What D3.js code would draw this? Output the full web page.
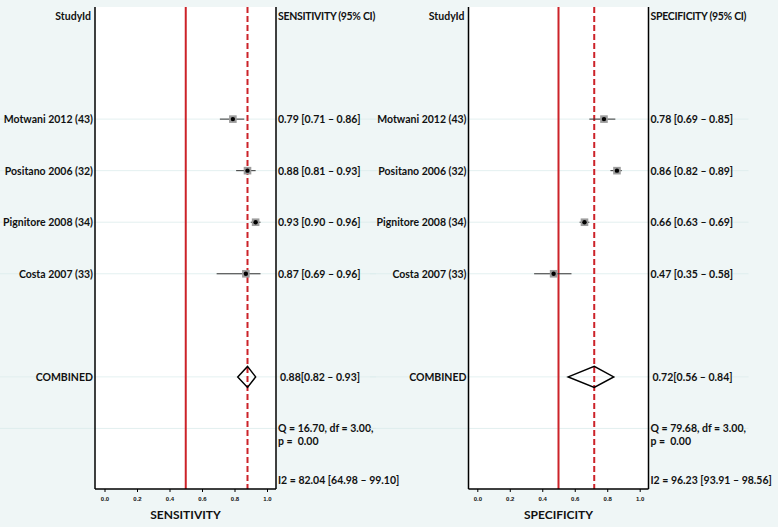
<!DOCTYPE html>
<html>
<head>
<meta charset="utf-8">
<script src="https://cdn.jsdelivr.net/npm/d3@7"></script>
<style>
  html, body { margin: 0; padding: 0; background: #eff6f6; }
  svg { display: block; font-family: Lato, "Open Sans", sans-serif; }
  .label { font-size: 10.5px; font-weight: bold; fill: #111; white-space: pre; }
  .tick text { font-size: 6px; font-weight: bold; fill: #111; }
</style>
</head>
<body>
<svg id="chart" width="778" height="527"></svg>
<script>
var studies = ['Motwani 2012 (43)', 'Positano 2006 (32)', 'Pignitore 2008 (34)', 'Costa 2007 (33)'];

var sensEst = [0.79, 0.88, 0.93, 0.87];
var sensLo  = [0.71, 0.81, 0.90, 0.69];
var sensHi  = [0.86, 0.93, 0.96, 0.96];
var sensPooled = [0.88, 0.82, 0.93];
var sensQ = ['Q = 16.70, df = 3.00,', 'p =  0.00'];
var sensI2 = 'I2 = 82.04 [64.98 \u2013 99.10]';

var specEst = [0.78, 0.86, 0.66, 0.47];
var specLo  = [0.69, 0.82, 0.63, 0.35];
var specHi  = [0.85, 0.89, 0.69, 0.58];
var specPooled = [0.72, 0.56, 0.84];
var specQ = ['Q = 79.68, df = 3.00,', 'p =  0.00'];
var specI2 = 'I2 = 96.23 [93.91 \u2013 98.56]';

var xTicks = [0, 0.2, 0.4, 0.6, 0.8, 1.0];

var svg = d3.select('#chart');

// rows: 0 header, 2-5 studies, 7 combined, 8 Q, 9 I2
var rowY = d3.scaleLinear().domain([0, 9]).range([16, 480]);
var panelTop = 7, panelBottom = 489;

function fmt(v) { return v.toFixed(2); }

function drawPanel(g, opts) {
    var x = d3.scaleLinear().domain([0, 1]).range([opts.x0, opts.x1]);

    g.append('rect')
        .attr('x', opts.left)
        .attr('y', panelTop)
        .attr('width', opts.right - opts.left)
        .attr('height', panelBottom - panelTop)
        .attr('fill', '#ffffff');

    // faint row guides
    g.selectAll('line.row-guide')
        .data([2, 3, 4, 5, 7, 8])
        .enter()
        .append('line')
        .attr('class', 'row-guide')
        .attr('x1', opts.labelStart)
        .attr('x2', opts.right + 100)
        .attr('y1', d => rowY(d))
        .attr('y2', d => rowY(d))
        .attr('stroke', '#dcecec')
        .attr('stroke-width', 0.8);

    // reference lines
    g.append('line')
        .attr('x1', x(0.5)).attr('x2', x(0.5))
        .attr('y1', panelTop).attr('y2', panelBottom)
        .attr('stroke', '#cc2229')
        .attr('stroke-width', 2);

    g.append('line')
        .attr('x1', x(opts.pooled[0])).attr('x2', x(opts.pooled[0]))
        .attr('y1', panelTop).attr('y2', panelBottom)
        .attr('stroke', '#cc2229')
        .attr('stroke-width', 2)
        .attr('stroke-dasharray', '6,3');

    // borders
    g.append('line')
        .attr('x1', opts.left).attr('x2', opts.left)
        .attr('y1', panelTop).attr('y2', panelBottom)
        .attr('stroke', '#000').attr('stroke-width', 1.5);
    g.append('line')
        .attr('x1', opts.right).attr('x2', opts.right)
        .attr('y1', panelTop).attr('y2', panelBottom)
        .attr('stroke', '#000').attr('stroke-width', 1.5);
    g.append('line')
        .attr('x1', opts.left).attr('x2', opts.right)
        .attr('y1', panelBottom).attr('y2', panelBottom)
        .attr('stroke', '#000').attr('stroke-width', 1.5);

    var axis = d3.axisBottom(x)
        .tickValues(xTicks)
        .tickFormat(d3.format('.1f'))
        .tickSize(3)
        .tickPadding(5);
    var axisG = g.append('g')
        .attr('transform', `translate(0, ${panelBottom})`)
        .call(axis);
    axisG.select('.domain').remove();

    g.append('text')
        .attr('class', 'label')
        .attr('x', (opts.left + opts.right) / 2)
        .attr('y', 519)
        .attr('text-anchor', 'middle')
        .style('font-size', '12px')
        .text(opts.title);

    // header
    g.append('text')
        .attr('class', 'label')
        .attr('x', opts.left - 4)
        .attr('y', rowY(0) + 4)
        .attr('text-anchor', 'end')
        .text('StudyId');
    g.append('text')
        .attr('class', 'label')
        .attr('x', opts.right + 2)
        .attr('y', rowY(0) + 4)
        .style('letter-spacing', '-0.3px')
        .text(opts.title + ' (95% CI)');

    var rows = studies.map((s, i) => ({
        name: s, est: opts.est[i], lo: opts.lo[i], hi: opts.hi[i], row: i + 2
    }));

    var rowG = g.selectAll('g.study')
        .data(rows)
        .enter()
        .append('g')
        .attr('class', 'study')
        .attr('transform', d => `translate(0, ${rowY(d.row)})`);

    rowG.append('text')
        .attr('class', 'label')
        .attr('x', opts.left - 2)
        .attr('y', 4)
        .attr('text-anchor', 'end')
        .text(d => d.name);

    rowG.append('line')
        .attr('x1', d => x(d.lo))
        .attr('x2', d => x(d.hi))
        .attr('stroke', '#333')
        .attr('stroke-width', 1);

    rowG.append('rect')
        .attr('x', d => x(d.est) - 3.8)
        .attr('y', -3.8)
        .attr('width', 7.6)
        .attr('height', 7.6)
        .attr('fill', '#9c9c9c');

    rowG.append('circle')
        .attr('cx', d => x(d.est))
        .attr('r', 2.2)
        .attr('fill', '#000');

    rowG.append('text')
        .attr('class', 'label')
        .attr('x', opts.right + 2)
        .attr('y', 4)
        .text(d => `${fmt(d.est)} [${fmt(d.lo)} \u2013 ${fmt(d.hi)}]`);

    // combined
    var cy = rowY(7);
    g.append('text')
        .attr('class', 'label')
        .attr('x', opts.left - 2)
        .attr('y', cy + 4)
        .attr('text-anchor', 'end')
        .text('COMBINED');

    var p = opts.pooled;
    g.append('path')
        .attr('d', `M${x(p[1])},${cy} L${x(p[0])},${cy - 10.5} L${x(p[2])},${cy} L${x(p[0])},${cy + 10.5} Z`)
        .attr('fill', 'none')
        .attr('stroke', '#000')
        .attr('stroke-width', 1.5);

    g.append('text')
        .attr('class', 'label')
        .attr('x', opts.right + 4)
        .attr('y', cy + 4)
        .text(`${fmt(p[0])}[${fmt(p[1])} \u2013 ${fmt(p[2])}]`);

    g.selectAll('text.q')
        .data(opts.q)
        .enter()
        .append('text')
        .attr('class', 'label q')
        .attr('x', opts.right + 2)
        .attr('y', (d, i) => rowY(8) + 4 + i * 13)
        .text(d => d);

    g.append('text')
        .attr('class', 'label')
        .attr('x', opts.right + 2)
        .attr('y', rowY(9) + 4)
        .text(opts.i2);
}

drawPanel(svg.append('g'), {
    left: 95, right: 276, x0: 104.5, x1: 267, labelStart: 0,
    title: 'SENSITIVITY',
    est: sensEst, lo: sensLo, hi: sensHi, pooled: sensPooled,
    q: sensQ, i2: sensI2
});

drawPanel(svg.append('g'), {
    left: 468.5, right: 648.5, x0: 477.3, x1: 639.7, labelStart: 370,
    title: 'SPECIFICITY',
    est: specEst, lo: specLo, hi: specHi, pooled: specPooled,
    q: specQ, i2: specI2
});
</script>
</body>
</html>
